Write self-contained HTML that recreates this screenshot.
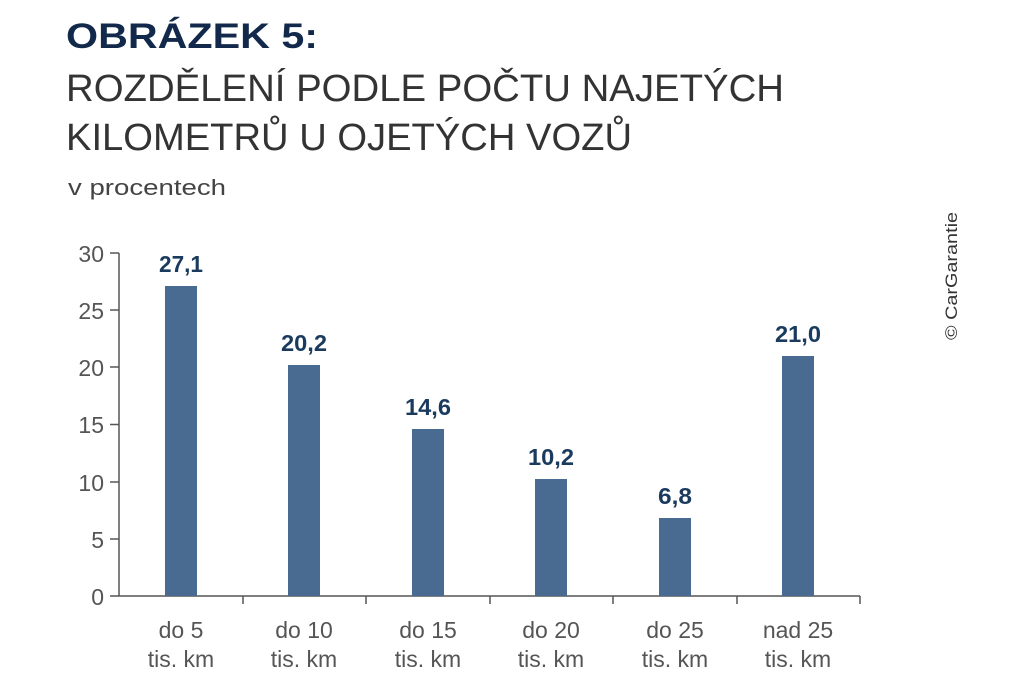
<!DOCTYPE html>
<html><head><meta charset="utf-8"><style>
body{margin:0;background:#fff;width:1024px;height:683px;overflow:hidden;font-family:"Liberation Sans",sans-serif;}
</style></head><body>
<svg width="1024" height="683" xmlns="http://www.w3.org/2000/svg" style="position:absolute;left:0;top:0">
<text x="66" y="48" font-size="35" font-weight="bold" fill="#13294b" font-family="Liberation Sans" textLength="252" lengthAdjust="spacingAndGlyphs">OBRÁZEK 5:</text>
<text x="66" y="101" font-size="38" fill="#333" font-family="Liberation Sans" textLength="718" lengthAdjust="spacingAndGlyphs">ROZDĚLENÍ PODLE POČTU NAJETÝCH</text>
<text x="66" y="150" font-size="38" fill="#333" font-family="Liberation Sans" textLength="566" lengthAdjust="spacingAndGlyphs">KILOMETRŮ U OJETÝCH VOZŮ</text>
<text x="68" y="195" font-size="22" fill="#444" font-family="Liberation Sans" textLength="158" lengthAdjust="spacingAndGlyphs">v procentech</text>
<text transform="translate(957,340) rotate(-90)" font-size="17" fill="#333" font-family="Liberation Sans" textLength="128" lengthAdjust="spacingAndGlyphs">© CarGarantie</text>
<g stroke="#555" stroke-width="1.5" fill="none">
<line x1="119" y1="253" x2="119" y2="596"/>
<line x1="110" y1="596" x2="860" y2="596"/>
<line x1="110" y1="253" x2="119" y2="253"/>
<line x1="110" y1="310" x2="119" y2="310"/>
<line x1="110" y1="367" x2="119" y2="367"/>
<line x1="110" y1="424.5" x2="119" y2="424.5"/>
<line x1="110" y1="482" x2="119" y2="482"/>
<line x1="110" y1="539" x2="119" y2="539"/>
<line x1="243" y1="596" x2="243" y2="604"/>
<line x1="366" y1="596" x2="366" y2="604"/>
<line x1="490" y1="596" x2="490" y2="604"/>
<line x1="613" y1="596" x2="613" y2="604"/>
<line x1="737" y1="596" x2="737" y2="604"/>
<line x1="860" y1="596" x2="860" y2="604"/>
</g>
<g font-size="23" fill="#555" text-anchor="end" font-family="Liberation Sans">
<text x="104" y="262">30</text><text x="104" y="319">25</text><text x="104" y="376">20</text>
<text x="104" y="433">15</text><text x="104" y="491">10</text><text x="104" y="548">5</text><text x="104" y="605">0</text>
</g>
<g fill="#4a6b91">
<rect x="165" y="286" width="32" height="310"/>
<rect x="288" y="365" width="32" height="231"/>
<rect x="412" y="429" width="32" height="167"/>
<rect x="535" y="479" width="32" height="117"/>
<rect x="659" y="518" width="32" height="78"/>
<rect x="782" y="356" width="32" height="240"/>
</g>
<g font-size="23" font-weight="bold" fill="#1a3a5e" text-anchor="middle" font-family="Liberation Sans">
<text x="181" y="272" textLength="44" lengthAdjust="spacingAndGlyphs">27,1</text>
<text x="304" y="351" textLength="46" lengthAdjust="spacingAndGlyphs">20,2</text>
<text x="428" y="415" textLength="46" lengthAdjust="spacingAndGlyphs">14,6</text>
<text x="551" y="465" textLength="46" lengthAdjust="spacingAndGlyphs">10,2</text>
<text x="675" y="504" textLength="34" lengthAdjust="spacingAndGlyphs">6,8</text>
<text x="798" y="342" textLength="46" lengthAdjust="spacingAndGlyphs">21,0</text>
</g>
<g font-size="23" fill="#555" text-anchor="middle" font-family="Liberation Sans">
<text x="181" y="638">do 5</text><text x="181" y="667">tis. km</text>
<text x="304" y="638">do 10</text><text x="304" y="667">tis. km</text>
<text x="428" y="638">do 15</text><text x="428" y="667">tis. km</text>
<text x="551" y="638">do 20</text><text x="551" y="667">tis. km</text>
<text x="675" y="638">do 25</text><text x="675" y="667">tis. km</text>
<text x="798" y="638">nad 25</text><text x="798" y="667">tis. km</text>
</g>
</svg>
</body></html>
